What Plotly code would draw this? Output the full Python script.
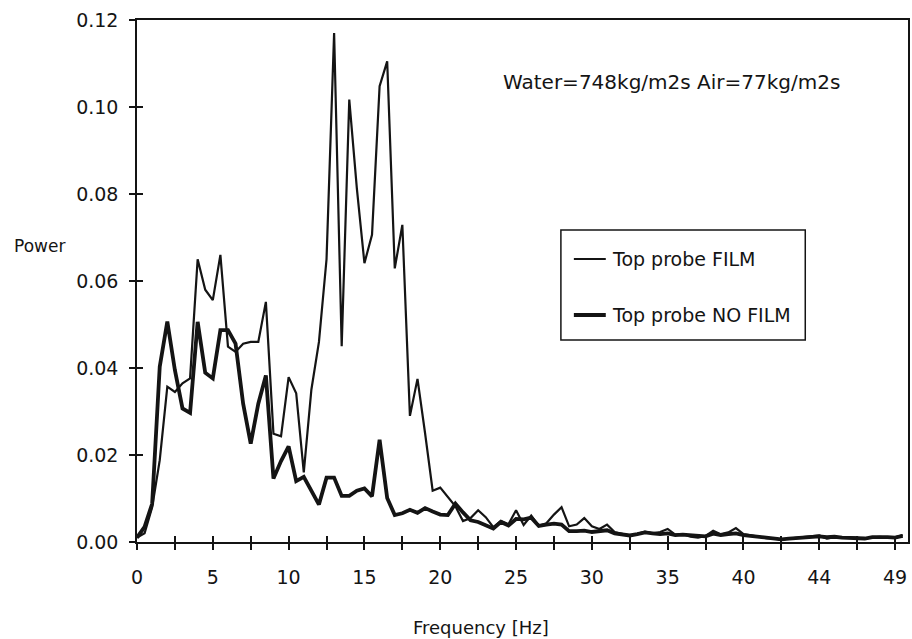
import plotly.graph_objects as go

# Spectrum bins (FFT sample index) and the frequency labels printed on the axis
bin_index = list(range(102))
label_bins = [0, 10, 20, 30, 40, 50, 60, 70, 80, 90, 100]
freq_labels = ["0", "5", "10", "15", "20", "25", "30", "35", "40", "44", "49"]
y_ticks = [0.00, 0.02, 0.04, 0.06, 0.08, 0.10, 0.12]

power_film = [
    0.001, 0.002, 0.008, 0.0188, 0.0357, 0.0345, 0.0365, 0.0376, 0.065, 0.058,
    0.0556, 0.066, 0.0449, 0.0437, 0.0456, 0.046, 0.046, 0.0552, 0.0249, 0.0243,
    0.0379, 0.0342, 0.016, 0.035, 0.046, 0.065, 0.117, 0.045, 0.1017, 0.0813,
    0.0641, 0.0706, 0.1048, 0.1105, 0.0629, 0.0729, 0.029, 0.0375, 0.025, 0.0118,
    0.0125, 0.0103, 0.0082, 0.0048, 0.0055, 0.0073, 0.0057, 0.0034, 0.0049, 0.0041,
    0.0073, 0.0039, 0.0061, 0.0037, 0.0043, 0.0063, 0.0080, 0.0036, 0.0040, 0.0055,
    0.0036, 0.0030, 0.0040, 0.0023, 0.0019, 0.0015, 0.0019, 0.0024, 0.0020, 0.0023,
    0.0030, 0.0017, 0.0018, 0.0012, 0.0010, 0.0014, 0.0026, 0.0018, 0.0022, 0.0032,
    0.0018, 0.0015, 0.0011, 0.0009, 0.0008, 0.0005, 0.0008, 0.0010, 0.0012, 0.0013,
    0.0015, 0.0008, 0.0011, 0.0011, 0.0010, 0.0010, 0.0007, 0.0011, 0.0012, 0.0010,
    0.0011, 0.0016,
]

power_no_film = [
    0.001, 0.0035, 0.0088, 0.0403, 0.0507, 0.0395, 0.0307, 0.0297, 0.0506, 0.0389,
    0.0376, 0.0487, 0.0487, 0.0456, 0.0318, 0.0226, 0.0318, 0.0383, 0.0146, 0.0186,
    0.022, 0.014, 0.015, 0.012, 0.0086, 0.0148, 0.0148, 0.0106, 0.0106, 0.0118,
    0.0123, 0.0105, 0.0235, 0.0101, 0.0062, 0.0066, 0.0074, 0.0067, 0.0078, 0.007,
    0.0063, 0.0062, 0.0088, 0.0068, 0.0050, 0.0046, 0.0038, 0.0031, 0.0046, 0.0038,
    0.0053, 0.0052, 0.0056, 0.0037, 0.0040, 0.0042, 0.0040, 0.0025, 0.0025, 0.0026,
    0.0023, 0.0025, 0.0027, 0.0020, 0.0018, 0.0015, 0.0018, 0.0022, 0.0020, 0.0018,
    0.0020, 0.0016, 0.0017, 0.0016, 0.0014, 0.0013, 0.0019, 0.0016, 0.0018, 0.0020,
    0.0016, 0.0014, 0.0011, 0.0009, 0.0008, 0.0006, 0.0008, 0.0009, 0.0011, 0.0012,
    0.0013, 0.0011, 0.0012, 0.0010, 0.0009, 0.0010, 0.0008, 0.0011, 0.0012, 0.0011,
    0.0010, 0.0014,
]

INK = "#141414"
FONT = "DejaVu Sans"
W, H = 912, 639
L, R, T, B = 137, 2, 20, 97
PW, PH = W - L - R, H - T - B


def px(x):
    return (x - L) / PW


def py(y):
    return (H - B - y) / PH


fig = go.Figure()
fig.add_trace(go.Scatter(
    x=bin_index, y=power_film, mode="lines", name="Top probe FILM",
    line=dict(color=INK, width=2.2), showlegend=False,
))
fig.add_trace(go.Scatter(
    x=bin_index, y=power_no_film, mode="lines", name="Top probe NO FILM",
    line=dict(color=INK, width=3.8), showlegend=False,
))
# carrier for the inner tick overlay axes
fig.add_trace(go.Scatter(
    x=[0], y=[0], xaxis="x2", yaxis="y2", mode="lines",
    line=dict(width=0), showlegend=False, hoverinfo="skip",
))

tick_vals_x = list(range(0, 101, 5))
tick_text_x = [freq_labels[label_bins.index(v)] if v in label_bins else "" for v in tick_vals_x]

axis_common = dict(showgrid=False, zeroline=False, tickcolor=INK, tickwidth=1.5, ticklen=6)

fig.update_layout(
    width=W, height=H,
    margin=dict(l=L, r=R, t=T, b=B, pad=0),
    paper_bgcolor="white", plot_bgcolor="white",
    font=dict(family=FONT, size=19, color=INK),
    xaxis=dict(
        range=[0, 101.7], tickmode="array", tickvals=tick_vals_x, ticktext=tick_text_x,
        ticks="outside", showline=True, linecolor=INK, linewidth=1.5, mirror=True,
        ticklabelstandoff=11, **axis_common,
    ),
    yaxis=dict(
        range=[0, 0.12], tickmode="array", tickvals=y_ticks,
        ticktext=[f"{v:.2f}" for v in y_ticks],
        ticks="outside", showline=True, linecolor=INK, linewidth=1.5, mirror=True,
        ticklabelstandoff=7, **axis_common,
    ),
    xaxis2=dict(
        overlaying="x", matches="x", range=[0, 101.7], tickmode="array",
        tickvals=tick_vals_x, ticks="inside", showticklabels=False, showline=False,
        **axis_common,
    ),
    yaxis2=dict(
        overlaying="y", matches="y", range=[0, 0.12], tickmode="array",
        tickvals=y_ticks, ticks="inside", showticklabels=False, showline=False,
        **axis_common,
    ),
    showlegend=False,
)

annotations = [
    dict(text="Water=748kg/m2s Air=77kg/m2s", x=px(502), y=py(82),
         xanchor="left", yanchor="middle", font=dict(size=20)),
    dict(text="Power", x=px(12), y=py(246), xanchor="left", yanchor="middle",
         font=dict(size=17)),
    dict(text="Frequency [Hz]", x=px(482), y=py(627), xanchor="center",
         yanchor="middle", font=dict(size=18)),
    dict(text="Top probe FILM", x=px(611), y=py(259), xanchor="left",
         yanchor="middle", font=dict(size=19)),
    dict(text="Top probe NO FILM", x=px(611), y=py(315), xanchor="left",
         yanchor="middle", font=dict(size=19)),
]
for a in annotations:
    a.update(xref="paper", yref="paper", showarrow=False)
fig.update_layout(annotations=annotations)

# legend frame and line keys
fig.add_shape(type="rect", xref="paper", yref="paper",
              x0=px(562), x1=px(807), y0=py(340), y1=py(230),
              line=dict(color=INK, width=1.5), fillcolor="white", layer="above")
fig.add_shape(type="line", xref="paper", yref="paper",
              x0=px(575), x1=px(607), y0=py(259), y1=py(259),
              line=dict(color=INK, width=2.0))
fig.add_shape(type="line", xref="paper", yref="paper",
              x0=px(575), x1=px(607), y0=py(315), y1=py(315),
              line=dict(color=INK, width=3.8))

fig.write_html("out.html")
